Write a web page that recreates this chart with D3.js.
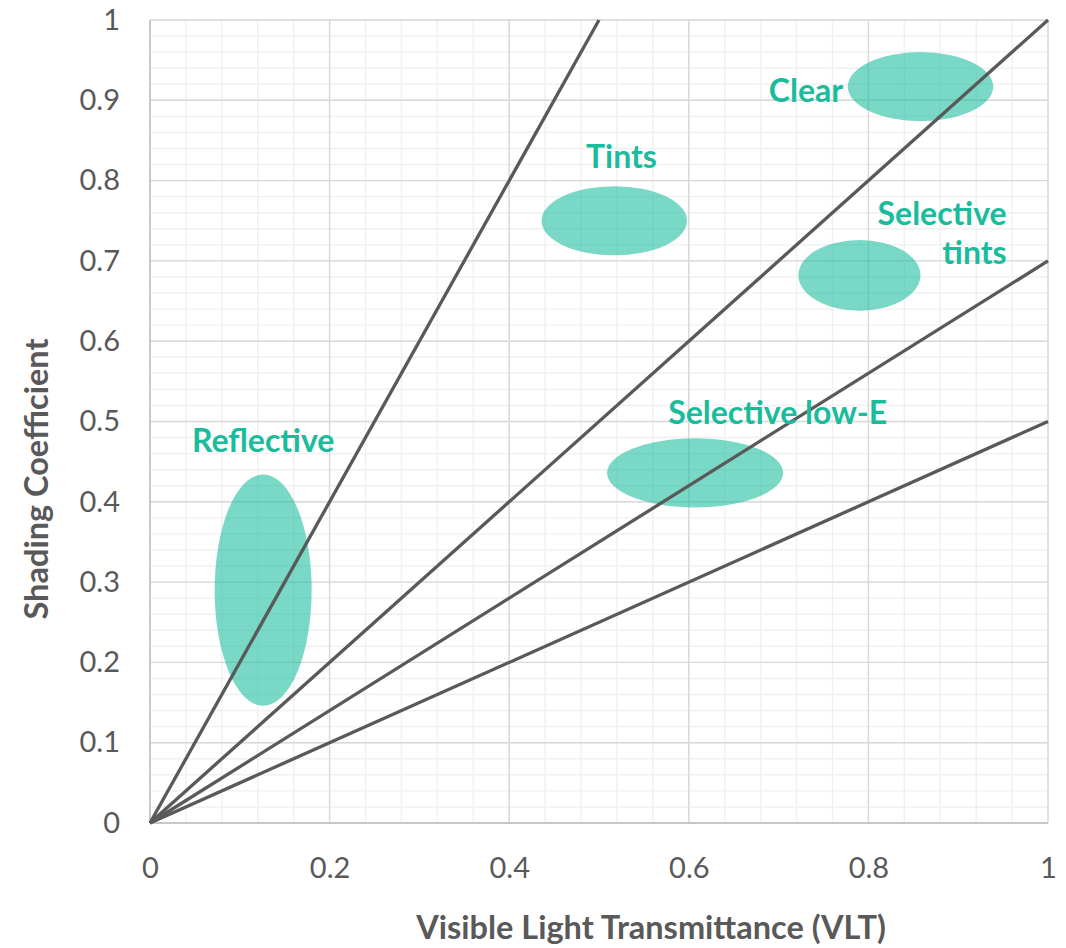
<!DOCTYPE html>
<html><head><meta charset="utf-8">
<script src="https://cdn.jsdelivr.net/npm/d3@7"></script>
<style>body{margin:0;background:#fff}text{font-family:Lato,"Open Sans",sans-serif}</style>
</head><body>
<svg id="c" width="1066" height="948"></svg>
<script>
const xTicks = [0, 0.2, 0.4, 0.6, 0.8, 1];
const yTicks = [0, 0.1, 0.2, 0.3, 0.4, 0.5, 0.6, 0.7, 0.8, 0.9, 1];
const xTickLabels = ["0", "0.2", "0.4", "0.6", "0.8", "1"];
const yTickLabels = ["0", "0.1", "0.2", "0.3", "0.4", "0.5", "0.6", "0.7", "0.8", "0.9", "1"];
// reference lines SC = slope * VLT
const lineSlopes = [2, 1, 0.7, 0.5];
// glazing regions: name, center VLT, center SC, half-width VLT, half-height SC
const regionNames = ["Reflective", "Tints", "Clear", "Selective tints", "Selective low-E"];
const regionCx = [0.126, 0.517, 0.858, 0.79, 0.607];
const regionCy = [0.29, 0.75, 0.917, 0.682, 0.436];
const regionRx = [0.054, 0.081, 0.081, 0.068, 0.098];
const regionRy = [0.144, 0.043, 0.043, 0.044, 0.043];
// labels: lines, anchor position (baseline) in data units
const labelLines = [["Reflective"], ["Tints"], ["Clear"], ["Selective", "tints"], ["Selective low-E"]];
const labelX = [0.126, 0.525, 0.772, 0.954, 0.699];
const labelY = [0.462, 0.816, 0.898, 0.745, 0.497];
const labelAnchor = ["middle", "middle", "end", "end", "middle"];

const svg = d3.select("#c");
const L = 150, R = 1048, T = 20, B = 823;
const x = d3.scaleLinear().domain([0, 1]).range([L, R]);
const y = d3.scaleLinear().domain([0, 1]).range([B, T]);

const g = svg.append("g");
// minor grid
g.selectAll(".mx").data(d3.range(0, 1.0001, 0.04)).join("line")
  .attr("x1", d => x(d)).attr("x2", d => x(d)).attr("y1", T).attr("y2", B)
  .attr("stroke", "#f0f0f0").attr("stroke-width", 1.4);
g.selectAll(".my").data(d3.range(0, 1.0001, 0.02)).join("line")
  .attr("y1", d => y(d)).attr("y2", d => y(d)).attr("x1", L).attr("x2", R)
  .attr("stroke", "#f0f0f0").attr("stroke-width", 1.4);
// major grid
g.selectAll(".Mx").data(xTicks).join("line")
  .attr("x1", d => x(d)).attr("x2", d => x(d)).attr("y1", T).attr("y2", B)
  .attr("stroke", "#d9d9d9").attr("stroke-width", 1.4);
g.selectAll(".My").data(yTicks).join("line")
  .attr("y1", d => y(d)).attr("y2", d => y(d)).attr("x1", L).attr("x2", R)
  .attr("stroke", "#d9d9d9").attr("stroke-width", 1.4);
// axis lines
g.append("line").attr("x1", L).attr("x2", L).attr("y1", T).attr("y2", B).attr("stroke", "#bfbfbf").attr("stroke-width", 1.5);
g.append("line").attr("x1", L).attr("x2", R).attr("y1", B).attr("y2", B).attr("stroke", "#bfbfbf").attr("stroke-width", 1.5);

// axes (labels only)
const xAxis = d3.axisBottom(x).tickValues(xTicks).tickFormat((d, i) => xTickLabels[i]).tickSize(0).tickPadding(34);
const ax = svg.append("g").attr("transform", `translate(0,${B})`).call(xAxis);
ax.select(".domain").remove();
ax.selectAll("text").attr("font-size", 29).attr("fill", "#595959").attr("font-family", "Lato, sans-serif");
const yAxis = d3.axisLeft(y).tickValues(yTicks).tickFormat((d, i) => yTickLabels[i]).tickSize(0).tickPadding(30);
const ay = svg.append("g").attr("transform", `translate(${L},0)`).call(yAxis);
ay.select(".domain").remove();
ay.selectAll("text").attr("font-size", 29).attr("fill", "#595959").attr("font-family", "Lato, sans-serif");

// regions
svg.append("g").selectAll("ellipse").data(regionNames).join("ellipse")
  .attr("cx", (d, i) => x(regionCx[i])).attr("cy", (d, i) => y(regionCy[i]))
  .attr("rx", (d, i) => x(regionRx[i]) - x(0)).attr("ry", (d, i) => y(0) - y(regionRy[i]))
  .attr("fill", "#1abc9c").attr("fill-opacity", 0.58);

// lines
svg.append("g").selectAll("line").data(lineSlopes).join("line")
  .attr("x1", x(0)).attr("y1", y(0))
  .attr("x2", d => x(Math.min(1, 1 / d))).attr("y2", d => y(Math.min(1, d)))
  .attr("stroke", "#595959").attr("stroke-width", 3.3);

// labels
const lg = svg.append("g");
labelLines.forEach((lines, i) => {
  const t = lg.append("text").attr("x", x(labelX[i])).attr("y", y(labelY[i]))
    .attr("text-anchor", labelAnchor[i]).attr("font-size", 32).attr("font-weight", "bold")
    .attr("fill", "#1abc9c");
  lines.forEach((s, j) => t.append("tspan").attr("x", x(labelX[i])).attr("dy", j === 0 ? 0 : 39).text(s));
});

// axis titles
svg.append("text").attr("x", 651).attr("y", 939).attr("text-anchor", "middle")
  .attr("font-size", 32.5).attr("font-weight", "bold").attr("fill", "#595959")
  .text("Visible Light Transmittance (VLT)");
svg.append("text").attr("transform", "translate(48,479) rotate(-90)").attr("text-anchor", "middle")
  .attr("font-size", 32.5).attr("font-weight", "bold").attr("fill", "#595959")
  .text("Shading Coefficient");
</script>
</body></html>
